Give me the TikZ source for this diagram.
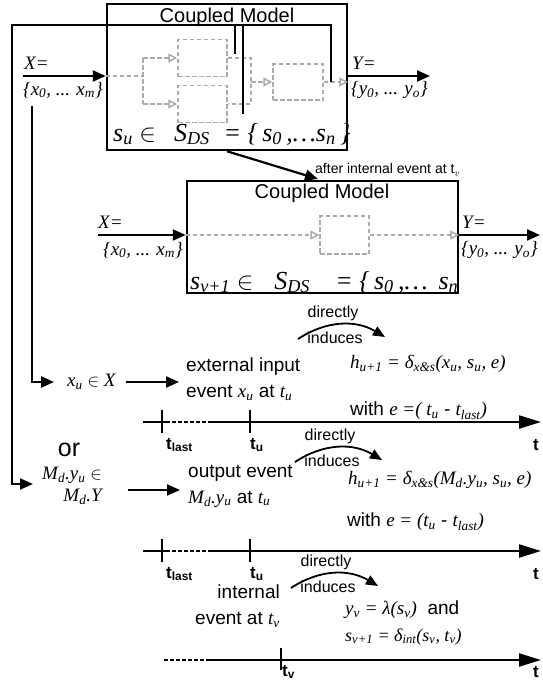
\documentclass[tikz,border=0pt]{standalone}
\usepackage{fontspec}
\setmainfont{Liberation Sans}
\newfontfamily\tms{Liberation Serif}
\usetikzlibrary{arrows.meta,positioning}

\begin{document}
\begin{tikzpicture}[
    x=1pt, y=-1pt,
    frame/.style={draw, line width=2.5pt, inner sep=0pt},
    blk/.style={draw=black!33, line width=1.5pt, dash pattern=on 4.5pt off 2.5pt,
                inner sep=0pt, minimum width=49pt, minimum height=37pt},
    wire/.style={line width=2.2pt},
    flow/.style={wire, -{Triangle[length=13pt, width=11pt]}},
    axis/.style={wire, -{Triangle[length=22pt, width=13pt]}},
    gwire/.style={black!33, line width=1.5pt, dash pattern=on 4.5pt off 2.5pt},
    gflow/.style={gwire, -{Triangle[open, length=9pt, width=9pt, line width=1.5pt]}},
    arcflow/.style={line width=1.8pt, -{Triangle[length=12pt, width=10pt]}},
    ttl/.style={font=\fontsize{20}{22}\selectfont, inner sep=0pt},
    txt/.style={font=\fontsize{19}{26}\selectfont, inner sep=0pt},
    mth/.style={font=\fontsize{18}{20}\selectfont\tms\itshape, inner sep=0pt, anchor=west},
    lbl/.style={font=\fontsize{19}{20}\selectfont\tms\itshape, inner sep=0pt, anchor=west},
    big/.style={font=\fontsize{26}{29}\selectfont\tms\itshape, inner sep=0pt, anchor=base west},
    small/.style={font=\fontsize{16}{18}\selectfont, inner sep=0pt},
    tlbl/.style={font=\fontsize{17}{19}\selectfont\bfseries, inner sep=0pt, anchor=west}
]
\useasboundingbox (0,0) rectangle (543,681);

% ---------- first coupled model ----------
\node[frame, minimum width=240pt, minimum height=146pt] (cm1) at (227,77) {};
\node[ttl] (cm1t) at (227,17) {Coupled Model};
\node[blk] (blkA) at (202.5,58) {};
\node[blk] (blkB) at (202.5,104) {};
\node[blk, minimum width=50pt, minimum height=36pt] (blkC) at (298,82) {};

\coordinate (jL) at (143,76);
\coordinate (jLu) at (143,58);
\coordinate (jLd) at (143,104);
\coordinate (jR) at (251,82);
\draw[gwire] (jL -| cm1.west) -- (jL);
\draw[gwire] (jLu) -- (jLd);
\draw[gflow] (jLu) -- (blkA.west);
\draw[gflow] (jLd) -- (blkB.west);
\draw[gwire] (blkA.east) -- (blkA.east -| jR) -- (blkB.east -| jR) -- (blkB.east);
\draw[gflow] (jR) -- (blkC.west);
\draw[gflow] (blkC.east) -- (blkC.east -| cm1.east);

\node[big] (su) at (113,141) {s\textsubscript{u} $\in$\;\, S\textsubscript{DS}\; = \{\,s\textsubscript{0}\,,\dots s\textsubscript{n}\,\}};

% ---------- ports of the first model ----------
\coordinate (x1) at (23,76);
\coordinate (y1) at (430,76);
\draw[flow] (x1) -- (x1 -| cm1.west);
\draw[flow] (y1 -| cm1.east) -- (y1);
\node[lbl] (X1) at (24,63) {X=};
\node[lbl] (X1s) at (23,90) {\{x\textsubscript{0}, ... x\textsubscript{m}\}};
\node[lbl] (Y1) at (352,63) {Y=};
\node[lbl] (Y1s) at (351,90) {\{y\textsubscript{0}, ... y\textsubscript{o}\}};

% ---------- feedback and inner bars ----------
\coordinate (fbE) at (331,82);
\coordinate (fbR) at (331,25);
\coordinate (fbL) at (12,25);
\coordinate (fbB) at (12,484);
\coordinate (fbT) at (33,484);
\draw[flow] (fbE) -- (fbR) -- (fbL) -- (fbB) -- (fbT);
\coordinate (v1a) at (235,25);
\coordinate (v1b) at (235,54);
\coordinate (v2a) at (243,25);
\coordinate (v2b) at (243,114);
\draw[wire] (v1a) -- (v1b);
\draw[wire] (v2a) -- (v2b);

\coordinate (fxA) at (32,106);
\coordinate (fxB) at (32,382);
\coordinate (fxT) at (54,382);
\draw[flow] (fxA) -- (fxB) -- (fxT);

% ---------- transition ----------
\coordinate (cm2in) at (318,179);
\draw[flow] (cm1.south) -- (cm2in);
\node[small, font=\fontsize{14}{16}\selectfont, anchor=west] (aft) at (315,170) {after internal event at t$_v$};

% ---------- second coupled model ----------
\node[frame, minimum width=271pt, minimum height=112pt] (cm2) at (322.5,237) {};
\node[ttl] (cm2t) at (322,193) {Coupled Model};
\node[blk, minimum height=38pt] (blkD) at (344.5,235) {};
\coordinate (x2) at (98,235);
\coordinate (y2) at (540,235);
\draw[flow] (x2) -- (x2 -| cm2.west);
\draw[flow] (y2 -| cm2.east) -- (y2);
\draw[gflow] (x2 -| cm2.west) -- (blkD.west);
\draw[gflow] (blkD.east) -- (blkD.east -| cm2.east);
\node[lbl] (X2) at (98,222) {X=};
\node[lbl] (X2s) at (103,250) {\{x\textsubscript{0}, ... x\textsubscript{m}\}};
\node[lbl] (Y2) at (462,222) {Y=};
\node[lbl] (Y2s) at (461,250) {\{y\textsubscript{0}, ... y\textsubscript{o}\}};
\begin{scope}
  \clip (cm2.south west) rectangle (cm2.north east);
  \node[big] (sv) at (190,289) {s\textsubscript{v+1} $\in$\;\; S\textsubscript{DS}\;\;\, = \{\,s\textsubscript{0}\,,\dots\, s\textsubscript{n}};
\end{scope}

% ---------- directly induces ----------
\foreach \n/\dx/\dy in {a/0/0, b/-3/123, c/-7/249} {
  \node[small] (dir\n) at ({333+\dx},{313+\dy}) {directly};
  \node[small] (ind\n) at ({335+\dx},{338+\dy}) {induces};
  \coordinate (bs\n) at ({298+\dx},{339+\dy});
  \coordinate (be\n) at ({385+\dx},{337+\dy});
  \draw[arcflow] (bs\n) to[bend left=32] (be\n);
}

% ---------- external input event ----------
\node[mth, font=\fontsize{19}{20}\selectfont\tms\itshape] (xu) at (67,382) {x\textsubscript{u} $\in$ X};
\node[txt, align=left, anchor=west] (ext) at (186,379) {external input\\event {\tms\itshape x\textsubscript{u}} at {\tms\itshape t\textsubscript{u}}};
\coordinate (xa) at (126,382);
\coordinate (xb) at (179,382);
\draw[flow] (xa) -- (xb);
\node[mth, font=\fontsize{19}{20}\selectfont\tms\itshape] (h1) at (350,364) {h\textsubscript{u+1} = δ\textsubscript{x\&s}(x\textsubscript{u}, s\textsubscript{u}, e)};
\node[txt, anchor=west] (w1) at (350,411) {with {\tms\itshape e =( t\textsubscript{u}} - {\tms\itshape t\textsubscript{last})}};

\node[ttl, font=\fontsize{25}{27}\selectfont] (or) at (69,450) {or};

% ---------- output event ----------
\node[mth, font=\fontsize{19}{20}\selectfont\tms\itshape, align=right] (my) at (42,486) {M\textsubscript{d}.y\textsubscript{u} $\in$\\[2pt]M\textsubscript{d}.Y};
\node[txt, align=left, anchor=west] (oev) at (188,486) {output event\\{\tms\itshape M\textsubscript{d}.y\textsubscript{u}} at {\tms\itshape t\textsubscript{u}}};
\coordinate (ma) at (128,490);
\coordinate (mb) at (180,490);
\draw[flow] (ma) -- (mb);
\node[mth, font=\fontsize{19}{20}\selectfont\tms\itshape] (h2) at (348,480) {h\textsubscript{u+1} = δ\textsubscript{x\&s}(M\textsubscript{d}.y\textsubscript{u}, s\textsubscript{u}, e)};
\node[txt, anchor=west] (w2) at (347,522) {with {\tms\itshape e = (t\textsubscript{u}} - {\tms\itshape t\textsubscript{last})}};

% ---------- internal event ----------
\node[txt, align=right, anchor=east] (iev) at (280,606) {internal\\event at {\tms\itshape t\textsubscript{v}}};
\node[txt, anchor=west] (yv) at (345,610) {{\tms\itshape y\textsubscript{v} = λ(s\textsubscript{v})}\; and};
\node[mth] (sv1) at (345,637) {s\textsubscript{v+1} = δ\textsubscript{int}(s\textsubscript{v}, t\textsubscript{v})};

% ---------- time lines ----------
\foreach \n/\y in {a/422, b/551} {
  \coordinate (ta\n) at (143,\y);
  \coordinate (tb\n) at (166,\y);
  \coordinate (tc\n) at (212,\y);
  \coordinate (te\n) at (541,\y);
  \draw[wire] (ta\n) -- (tb\n);
  \draw[wire, dash pattern=on 4pt off 2pt] (tb\n) -- (tc\n);
  \draw[axis] (tc\n) -- (te\n);
  \draw[wire] (162,{\y-12}) -- (162,{\y+11});
  \draw[wire] (250,{\y-12}) -- (250,{\y+11});
  \node[tlbl] (tl\n) at (166,{\y+23}) {t\textsubscript{last}};
  \node[tlbl] (tu\n) at (250,{\y+23}) {t\textsubscript{u}};
  \node[tlbl] (tt\n) at (533,{\y+23}) {t};
}
\coordinate (tbc) at (164,660);
\coordinate (tcc) at (210,660);
\coordinate (tec) at (541,660);
\draw[wire, dash pattern=on 4pt off 2pt] (tbc) -- (tcc);
\draw[axis] (tcc) -- (tec);
\draw[wire] (281,648) -- (281,670);
\node[tlbl] (tvc) at (282,672) {t\textsubscript{v}};
\node[tlbl] (ttc) at (533,672) {t};

\end{tikzpicture}
\end{document}
